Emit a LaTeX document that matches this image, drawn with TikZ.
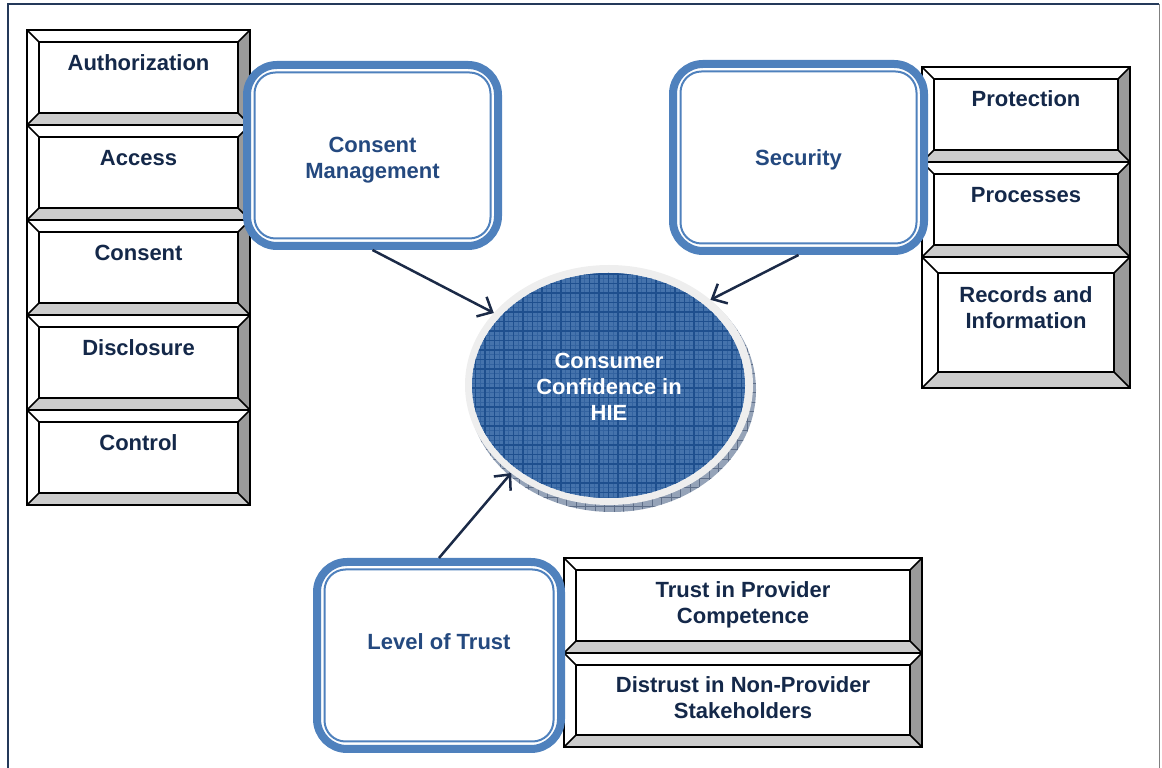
\documentclass[tikz,border=0pt]{standalone}
\usepackage{fontspec}
\setmainfont{Liberation Sans}
\usetikzlibrary{arrows.meta,shapes.geometric,calc}
\definecolor{rbblue}{HTML}{4F81BD}
\definecolor{rbtext}{HTML}{24497F}
\definecolor{navytext}{HTML}{142849}
\definecolor{arrowcol}{HTML}{1B2A47}
\definecolor{rimgray}{HTML}{EEEEEE}
\definecolor{bluefill}{HTML}{4573AC}
\definecolor{gridcol}{HTML}{1E4F8E}
\definecolor{finegrid}{HTML}{3363A0}
\definecolor{shadowcol}{HTML}{95A3B8}
\definecolor{shadowgrid}{HTML}{5E6E88}
\definecolor{bevright}{HTML}{9A9A9A}
\definecolor{bevbot}{HTML}{CCCCCC}
\definecolor{framecol}{HTML}{24395A}
\tikzset{
  boxtext/.style={font=\fontsize{22}{26}\selectfont\bfseries, text=navytext, align=center, inner sep=0pt},
  rtext/.style={boxtext, text=rbtext},
  ctext/.style={boxtext, text=white},
  rbox/.style={draw=rbblue, line width=8pt, rounded corners=30pt, fill=white, inner sep=0pt},
  rinner/.style={draw=rbblue, line width=2pt, rounded corners=21pt},
  bevline/.style={draw=black, line width=1.6pt, line join=miter},
  conn/.style={draw=arrowcol, line width=2.5pt, -{Straight Barb[length=12pt,width=22pt]}},
}
% name, xl, ytop(px), xr, ybot(px), bevel, text anchor, text y(px), text
\newcommand\bvbox[9]{%
  \pgfmathsetmacro\bxa{#2}\pgfmathsetmacro\bxb{#4}%
  \pgfmathsetmacro\bya{768-#3}\pgfmathsetmacro\byb{768-#5}%
  \pgfmathsetmacro\bxc{#2+#6}\pgfmathsetmacro\bxd{#4-#6}%
  \pgfmathsetmacro\byc{\bya-#6}\pgfmathsetmacro\byd{\byb+#6}%
  \pgfmathsetmacro\bw{#4-#2}\pgfmathsetmacro\bh{#5-#3}%
  \pgfmathsetmacro\bmx{(#2+#4)/2}\pgfmathsetmacro\bmy{768-(#3+#5)/2}%
  \fill[white] (\bxa,\bya) rectangle (\bxb,\byb);
  \fill[bevright] (\bxb,\bya)--(\bxb,\byb)--(\bxd,\byd)--(\bxd,\byc)--cycle;
  \fill[bevbot] (\bxa,\byb)--(\bxb,\byb)--(\bxd,\byd)--(\bxc,\byd)--cycle;
  \draw[bevline] (\bxa,\bya) rectangle (\bxb,\byb) (\bxc,\byc) rectangle (\bxd,\byd)
     (\bxa,\bya)--(\bxc,\byc) (\bxb,\bya)--(\bxd,\byc) (\bxa,\byb)--(\bxc,\byd) (\bxb,\byb)--(\bxd,\byd);
  \node[inner sep=0pt, outer sep=0pt, minimum width=\bw pt, minimum height=\bh pt] (#1) at (\bmx,\bmy) {};
  \node[boxtext, anchor=#7] (#1-t) at (\bmx,{768-#8}) {#9};
}
\begin{document}
\begin{tikzpicture}[x=1pt,y=1pt]
\useasboundingbox (0,0) rectangle (1162,768);
% frame
\draw[framecol, line width=2pt] (8,-2) -- (8,764) -- (1159,764);
\draw[gray, line width=1pt] (1159,764) -- (1159,-2);

% left column
\bvbox{auth}{27}{30}{250}{125}{12}{base}{71}{Authorization}
\bvbox{acc}{27}{125}{250}{220}{12}{base}{166}{Access}
\bvbox{cons}{27}{220}{250}{315}{12}{base}{261}{Consent}
\bvbox{disc}{27}{315}{250}{410}{12}{base}{356}{Disclosure}
\bvbox{ctrl}{27}{410}{250}{505}{12}{base}{451}{Control}
% right column
\bvbox{prot}{922}{67}{1130}{162}{12}{base}{107}{Protection}
\bvbox{proc}{922}{162}{1130}{257}{12}{base}{203}{Processes}
\bvbox{rec}{922}{257}{1130}{388}{16}{center}{307.5}{Records and\\Information}
% bottom
\bvbox{tpc}{564}{558}{922}{653}{12}{center}{605}{Trust in Provider\\Competence}
\bvbox{dnp}{564}{653}{922}{747}{12}{center}{698}{Distrust in Non-Provider\\Stakeholders}

% rounded boxes
\node[rbox, minimum width=251pt, minimum height=181pt] (cm) at (372.5,612.5) {};
\draw[rinner] ([shift={(11.5,-11.5)}]cm.north west) rectangle ([shift={(-11.5,11.5)}]cm.south east);
\node[rtext] (cm-t) at (372.5,{768-160}) {Consent\\Management};

\node[rbox, minimum width=251pt, minimum height=187pt] (sec) at (798.5,610.5) {};
\draw[rinner] ([shift={(11.5,-11.5)}]sec.north west) rectangle ([shift={(-11.5,11.5)}]sec.south east);
\node[rtext, anchor=base] (sec-t) at (798.5,{768-166}) {Security};

\node[rbox, minimum width=244pt, minimum height=187pt] (lot) at (439,112.5) {};
\draw[rinner] ([shift={(11.5,-11.5)}]lot.north west) rectangle ([shift={(-11.5,11.5)}]lot.south east);
\node[rtext, anchor=base] (lot-t) at (439,{768-650}) {Level of Trust};

% central ellipse
\begin{scope}
  \clip (612,378) ellipse [x radius=144, y radius=122];
  \fill[shadowcol] (460,250) rectangle (760,510);
  \foreach \g in {462,471.5,...,760} \draw[shadowgrid, line width=0.8pt] (\g,250) -- (\g,510);
  \foreach \g in {252,261.5,...,510} \draw[shadowgrid, line width=0.8pt] (460,\g) -- (760,\g);
\end{scope}
\node[ellipse, fill=rimgray, minimum width=288pt, minimum height=240pt, inner sep=0pt, outer sep=0pt] (cce) at (609,383) {};
\begin{scope}
  \clip (608.5,382.5) ellipse [x radius=136.5, y radius=112.5];
  \fill[bluefill] (470,268) rectangle (748,497);
  \foreach \g in {470.75,480.25,...,750} \draw[finegrid, line width=0.6pt] (\g,265) -- (\g,500);
  \foreach \g in {270.75,280.25,...,500} \draw[finegrid, line width=0.6pt] (468,\g) -- (750,\g);
  \foreach \g in {466,475.5,...,750} \draw[gridcol, line width=1.1pt] (\g,265) -- (\g,500);
  \foreach \g in {266,275.5,...,500} \draw[gridcol, line width=1.1pt] (468,\g) -- (750,\g);
\end{scope}
\node[ctext] (cce-t) at (609,{768-387}) {Consumer\\Confidence in\\HIE};

% connectors
\draw[conn] (cm.south) -- (cce.148.9);
\draw[conn] (sec.south) -- (cce.40.2);
\draw[conn] (lot.north) -- (cce.222.1);
\end{tikzpicture}
\end{document}
